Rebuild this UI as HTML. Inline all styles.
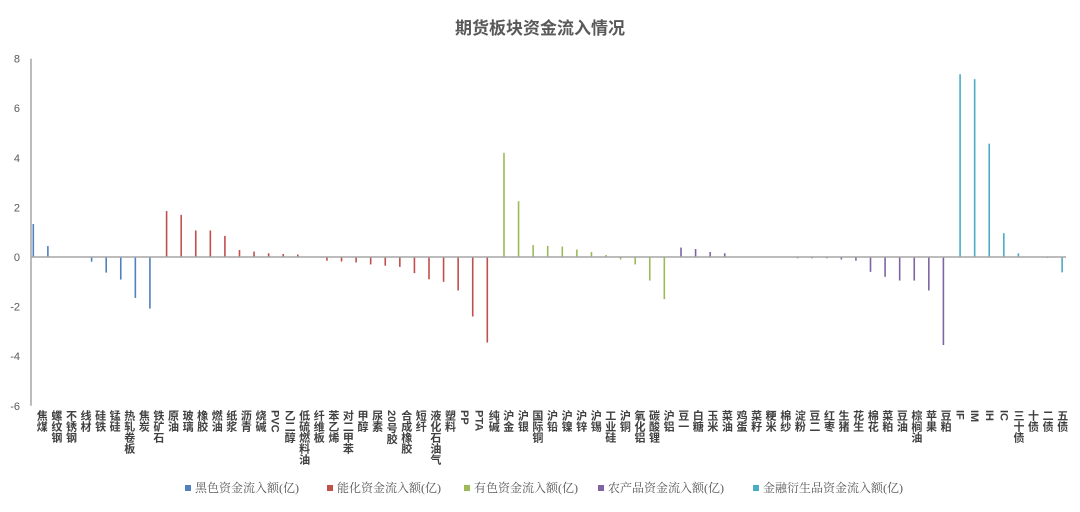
<!DOCTYPE html>
<html><head><meta charset="utf-8"><style>
body{margin:0;background:#fff;width:1080px;height:507px;overflow:hidden;font-family:"Liberation Sans","Noto Sans CJK SC",sans-serif}
</style></head><body>
<svg id="c" width="1080" height="507" xmlns="http://www.w3.org/2000/svg">
<text x="540" y="34" text-anchor="middle" font-size="17" font-weight="bold" fill="#595959" font-family="Liberation Sans, Noto Sans CJK SC, sans-serif">期货板块资金流入情况</text>
</svg>
<script>
const blackCats=["焦煤","螺纹钢","不锈钢","线材","硅铁","锰硅","热轧卷板","焦炭","铁矿石"];
const blackVals=[1.33,0.44,0,0,-0.19,-0.63,-0.91,-1.65,-2.08];
const chemCats=["原油","玻璃","橡胶","燃油","纸浆","沥青","烧碱","PVC","乙二醇","低硫燃料油","纤维板","苯乙烯","对二甲苯","甲醇","尿素","20号胶","合成橡胶","短纤","液化石油气","塑料","PP","PTA","纯碱"];
const chemVals=[1.85,1.7,1.07,1.07,0.85,0.28,0.22,0.15,0.12,0.1,0,-0.15,-0.18,-0.22,-0.3,-0.35,-0.4,-0.65,-0.9,-1.0,-1.35,-2.4,-3.45];
const metalCats=["沪金","沪银","国际铜","沪铅","沪镍","沪锌","沪锡","工业硅","沪铜","氧化铝","碳酸锂","沪铝"];
const metalVals=[4.2,2.25,0.48,0.45,0.42,0.3,0.2,0.08,-0.1,-0.3,-0.95,-1.7];
const agriCats=["豆一","白糖","玉米","菜油","鸡蛋","菜籽","粳米","棉纱","淀粉","豆二","红枣","生猪","花生","棉花","菜粕","豆油","棕榈油","苹果","豆粕"];
const agriVals=[0.38,0.32,0.2,0.15,0.02,0,0,0,-0.05,-0.05,-0.05,-0.1,-0.15,-0.6,-0.8,-0.95,-0.95,-1.35,-3.55];
const finCats=["IF","IM","IH","IC","三十债","十债","二债","五债"];
const finVals=[7.37,7.17,4.57,0.96,0.15,0,-0.04,-0.62];
const yTicks=[8,6,4,2,0,-2,-4,-6];
const seriesNames=["黑色资金流入额(亿)","能化资金流入额(亿)","有色资金流入额(亿)","农产品资金流入额(亿)","金融衍生品资金流入额(亿)"];
const colors=["#4F81BD","#C0504D","#9BBB59","#8064A2","#4BACC6"];
const groups=[[blackCats,blackVals],[chemCats,chemVals],[metalCats,metalVals],[agriCats,agriVals],[finCats,finVals]];
const svg=document.getElementById('c');const NS="http://www.w3.org/2000/svg";
function mk(t,a){const e=document.createElementNS(NS,t);for(const k in a)e.setAttribute(k,a[k]);svg.appendChild(e);return e;}
const x0=31,nCats=groups.reduce((s,g)=>s+g[0].length,0),W=(1066-x0)/nCats;
const y=v=>257-v*24.8;
yTicks.forEach(t=>{const e=mk('text',{x:20,y:y(t)+4,'text-anchor':'end','font-size':11,fill:'#595959'});e.textContent=t;

});
const ax=mk('line',{x1:x0,y1:y(8),x2:x0,y2:y(-6),stroke:'#A6A6A6','stroke-width':1.5});


let idx=0;
groups.forEach((g,si)=>{g[0].forEach((c,i)=>{const v=g[1][i];const cx=x0+idx*W;const bx=cx+1.5+si*2.1;
const r=mk('rect',{x:bx,y:Math.min(y(v),y(0)),width:1.6,height:Math.abs(y(v)-y(0)),fill:colors[si]});


const t=mk('text',{x:cx+W/2+3,y:410,'font-size':11,fill:'#404040','writing-mode':'vertical-rl','font-weight':'bold'});
t.textContent=c;


idx++;});});
const xa=mk('line',{x1:x0,y1:y(0),x2:1066,y2:y(0),stroke:'#A6A6A6','stroke-width':1.5});


const lx=[185,327,464,598,753];
seriesNames.forEach((n,i)=>{const m=mk('rect',{x:lx[i],y:485,width:6,height:6,fill:colors[i]});


const t=mk('text',{x:lx[i]+10,y:492,'font-size':12,fill:'#595959','font-family':'Liberation Serif, Noto Serif CJK SC, serif'});
t.textContent=n;

});
</script>
</body></html>
